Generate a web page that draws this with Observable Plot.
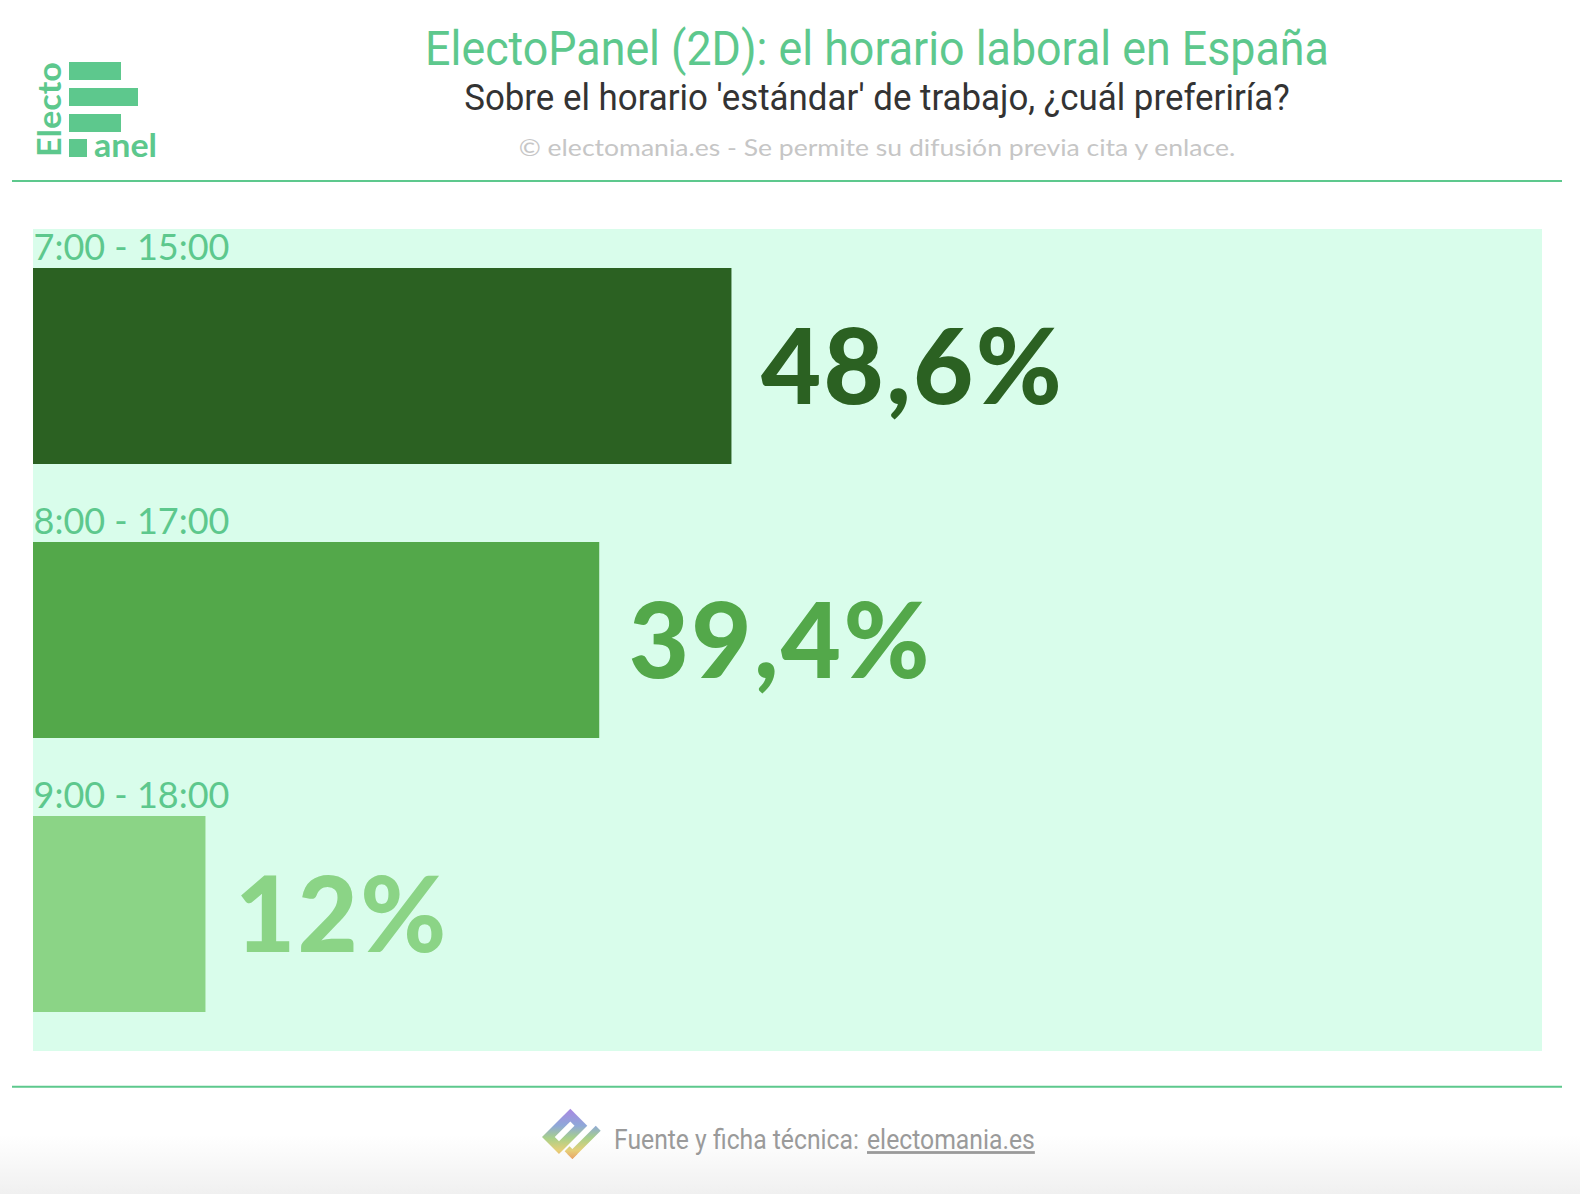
<!DOCTYPE html>
<html>
<head>
<meta charset="utf-8">
<script src="https://cdn.jsdelivr.net/npm/d3@7"></script>
<script src="https://cdn.jsdelivr.net/npm/@observablehq/plot@0.6"></script>
<style>
  html, body { margin: 0; padding: 0; background: #ffffff; }
  body { width: 1580px; height: 1194px; position: relative; overflow: hidden; }
  #footerbg { position: absolute; left: 0; top: 1135px; width: 1580px; height: 59px;
    background: linear-gradient(#ffffff, #f0f0f0); }
  #overlay { position: absolute; left: 0; top: 0; }
  #chart { position: absolute; left: 33px; top: 229px; }
</style>
</head>
<body>
<div id="footerbg"></div>
<svg id="overlay" width="1580" height="1194" xmlns="http://www.w3.org/2000/svg">
  <defs>
    <linearGradient id="ig" gradientUnits="userSpaceOnUse" x1="22" y1="-22" x2="-22" y2="22">
      <stop offset="0" stop-color="#b07ee6"/>
      <stop offset="0.35" stop-color="#8fa8d8"/>
      <stop offset="0.55" stop-color="#a8d08a"/>
      <stop offset="0.75" stop-color="#e6cf78"/>
      <stop offset="1" stop-color="#ec7c5a"/>
    </linearGradient>
  </defs>
  <!-- logo -->
  <text transform="translate(61,157) rotate(-90)" font-family="Lato, sans-serif" font-weight="700" font-size="33" fill="#5dc88d" textLength="95" lengthAdjust="spacingAndGlyphs">Electo</text>
  <rect x="69" y="62" width="52" height="18" fill="#5dc88d"/>
  <rect x="69" y="88" width="69" height="18" fill="#5dc88d"/>
  <rect x="69" y="114" width="52" height="18" fill="#5dc88d"/>
  <rect x="69" y="139" width="18" height="18" fill="#5dc88d"/>
  <text class="fit" data-w="63" x="94" y="157" font-family="Lato, sans-serif" font-weight="700" font-size="33" fill="#5dc88d">anel</text>
  <!-- header -->
  <text class="fit" data-w="904" x="877" y="65" text-anchor="middle" font-family="Roboto, sans-serif" font-size="49" fill="#5dc88d">ElectoPanel (2D): el horario laboral en España</text>
  <text class="fit" data-w="826" x="877" y="110" text-anchor="middle" font-family="Roboto, sans-serif" font-size="37" fill="#333333">Sobre el horario 'estándar' de trabajo, ¿cuál preferiría?</text>
  <text class="fit" data-w="717" x="877" y="156" text-anchor="middle" font-family="Lato, sans-serif" font-size="24" fill="#c6c6c6">© electomania.es - Se permite su difusión previa cita y enlace.</text>
  <line x1="12" x2="1562" y1="181" y2="181" stroke="#5dc88d" stroke-width="2"/>
  <line x1="12" x2="1562" y1="1086.7" y2="1086.7" stroke="#5dc88d" stroke-width="2"/>
  <!-- footer -->
  <g transform="translate(571,1135) rotate(-45)">
    <rect x="-22" y="-19" width="40" height="24" fill="url(#ig)"/>
    <rect x="-13" y="-10" width="22" height="6" fill="#ffffff"/>
    <rect x="-16" y="11" width="40" height="7" fill="url(#ig)"/>
    <rect x="-16" y="7" width="7" height="11" fill="url(#ig)"/>
  </g>
  <text class="fit" data-w="245" x="614" y="1149" font-family="Roboto, sans-serif" font-size="28" fill="#9a9a9a">Fuente y ficha técnica:</text>
  <text class="fit" data-w="168" x="867" y="1149" font-family="Roboto, sans-serif" font-size="28" fill="#9a9a9a" text-decoration="underline">electomania.es</text>
</svg>
<div id="chart"></div>
<script>
const categories = ["7:00 - 15:00", "8:00 - 17:00", "9:00 - 18:00"];
const values = [48.6, 39.4, 12];
const palette = ["#2b6122", "#53a84a", "#8bd486"];

const data = categories.map((c, i) => ({category: c, value: values[i]}));
const fmt = v => String(v).replace(".", ",") + "%";

const W = 1509, H = 822, pIn = 0.285, pOut = 0.139;
const step = H / (categories.length - pIn + 2 * pOut);
const bw = step * (1 - pIn);

const chart = Plot.plot({
  width: W,
  height: H,
  margin: 0,
  style: {background: "#d9fdeb", overflow: "visible"},
  x: {domain: [0, 105], axis: null},
  y: {domain: categories, axis: null, paddingInner: pIn, paddingOuter: pOut},
  color: {domain: categories, range: palette},
  marks: [
    Plot.barX(data, {x: "value", y: "category", fill: "category"}),
    Plot.text(data, {x: 0, y: "category", text: "category", textAnchor: "start", lineAnchor: "bottom",
      dy: -(bw / 2 + 8), fill: "#5dc88d", fontSize: 36, fontFamily: "Lato, sans-serif"}),
    Plot.text(data, {x: "value", y: "category", text: d => fmt(d.value), textAnchor: "start", lineAnchor: "bottom",
      dx: 29, dy: 37, fill: "category", fontSize: 104, fontWeight: 900, fontFamily: "Lato, sans-serif"})
  ]
});
document.getElementById("chart").appendChild(chart);

// widen the big value labels slightly to match the reference typeface width
const groups = chart.querySelectorAll("g[aria-label='text']");
const big = groups[groups.length - 1];
if (big) {
  const first = big.querySelector("text");
  const w = first.getComputedTextLength();
  const n = first.textContent.length;
  const ls = Math.max(0, Math.min(8, (303 - w) / n));
  big.querySelectorAll("text").forEach(t => t.style.letterSpacing = ls + "px");
}

// horizontally fit header/footer texts to the reference widths
document.querySelectorAll("#overlay text.fit").forEach(t => {
  const target = +t.dataset.w;
  const w = t.getComputedTextLength();
  if (w > 0) {
    const k = target / w;
    const x = +t.getAttribute("x");
    t.setAttribute("transform", `translate(${x},0) scale(${k},1) translate(${-x},0)`);
  }
});
</script>
</body>
</html>
